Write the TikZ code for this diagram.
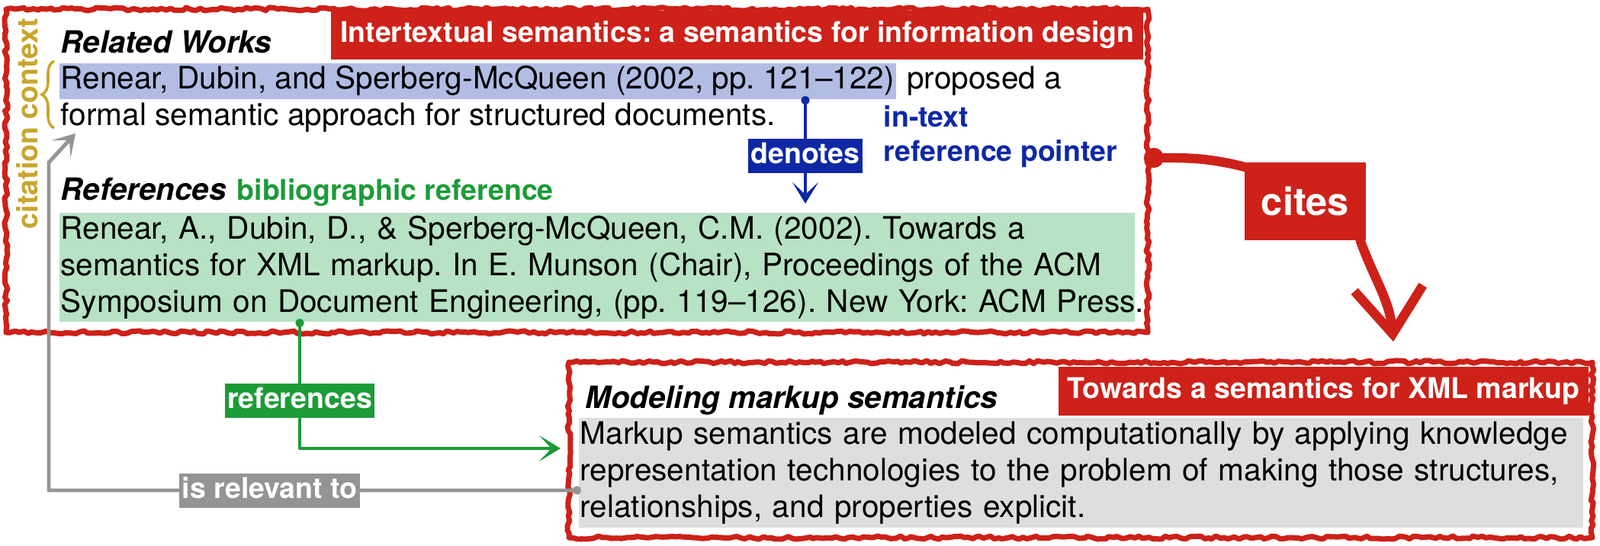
\documentclass[tikz,border=0pt]{standalone}
\usepackage{fontspec}
\setmainfont{TeX Gyre Heros}
\usetikzlibrary{arrows.meta, positioning, calc, decorations.pathreplacing, decorations.pathmorphing}
\frenchspacing

\definecolor{citered}{RGB}{205,33,25}
\definecolor{ptrblue}{RGB}{14,40,165}
\definecolor{hlblue}{RGB}{178,189,228}
\definecolor{refgreen}{RGB}{28,155,55}
\definecolor{hlgreen}{RGB}{183,226,196}
\definecolor{relgray}{RGB}{148,148,148}
\definecolor{hlgray}{RGB}{222,222,222}
\definecolor{ctxgold}{RGB}{200,165,45}

\begin{document}
\begin{tikzpicture}[>=Stealth,
		bodytext/.style={font=\fontsize{11.55}{13.66}\selectfont, inner sep=0pt},
		headtext/.style={font=\bfseries\itshape\fontsize{11.45}{13}\selectfont, inner sep=0pt},
		tagtext/.style={font=\bfseries\fontsize{10.67}{12}\selectfont, inner sep=0pt},
		hltext/.style={bodytext, inner xsep=0.02cm, inner ysep=0.04cm},
		lbl/.style={tagtext, text=white, text height=0.28cm, text depth=0.08cm, inner xsep=0.035cm, inner ysep=0.045cm},
		titlebar/.style={tagtext, text=white, fill=citered, text height=0.28cm, text depth=0.08cm, inner xsep=0.12cm, inner ysep=0.14cm},
		paperbox/.style={draw=citered, line width=2pt, line join=round, decorate, decoration={random steps, segment length=1.6pt, amplitude=0.6pt}},
		denline/.style={draw=ptrblue, line width=1.3pt, {Circle[length=1.1mm]}-{Stealth[length=2.8mm, width=3.4mm, inset=1.6mm]}},
		refline/.style={draw=refgreen, line width=1.4pt, line join=round, {Circle[length=1.1mm]}-{Stealth[length=2.8mm, width=3.4mm, inset=1.6mm]}},
		relline/.style={draw=relgray, line width=1.4pt, line join=round, {Circle[length=1.1mm]}-{Stealth[length=2.8mm, width=3.4mm, inset=1.6mm]}},
		citeline/.style={draw=citered, line width=3.5pt, line cap=round},
	]
	\useasboundingbox (0,0) rectangle (20.98,-7.16);
	
	% Citing paper
	\node[titlebar, anchor=north east] (citingtitle) at (15.00,-0.13) {Intertextual semantics: a semantics for information design};
	\node[headtext, anchor=base west] (relhead) at (0.79,-0.70) {Related Works};
	\node[hltext, fill=hlblue, anchor=base west] (intext) at (0.77,-1.17) {Renear, Dubin, and Sperberg-McQueen (2002, pp. 121–122)};
	\node[bodytext, anchor=base west] (proposed) at ([xshift=0.13cm]intext.base east) {proposed a};
	\node[bodytext, anchor=base west] (formal) at (0.79,-1.65) {formal semantic approach for structured documents.};
	\node[tagtext, text=ptrblue, anchor=base west] (ptrA) at (11.58,-1.67) {in-text};
	\node[tagtext, text=ptrblue, anchor=base west] (ptrB) at (11.58,-2.12) {reference pointer};
	\node[headtext, anchor=base west] (refhead) at (0.79,-2.63) {References};
	\node[tagtext, text=refgreen, anchor=base west] (biblbl) at (3.10,-2.63) {bibliographic reference};
	\node[hltext, fill=hlgreen, anchor=north west, text width=14.06cm, align=left] (refentry) at (0.77,-2.78)
		{\mbox{Renear, A., Dubin, D., \& Sperberg-McQueen, C.M. (2002). Towards a}\\
		\mbox{semantics for XML markup. In E. Munson (Chair), Proceedings of the ACM}\\
		\mbox{Symposium on Document Engineering, (pp. 119–126). New York: ACM Press.}};
	\node[paperbox, minimum width=14.97cm, minimum height=4.24cm] (citing) at (7.565,-2.24) {};
	
	% Citation context
	\node[tagtext, text=ctxgold, rotate=90] (ctx) at (0.355,-1.62) {citation context};
	\draw[ctxgold, line width=1pt, decorate, decoration={brace, amplitude=0.16cm}] (0.71,-1.68) -- (0.71,-0.80);
	
	% Cited paper
	\node[titlebar, anchor=north east] (citedtitle) at (20.84,-4.80) {Towards a semantics for XML markup};
	\node[headtext, anchor=base west] (modhead) at (7.67,-5.35) {Modeling markup semantics};
	\node[hltext, fill=hlgray, anchor=north west, text width=13.13cm, align=left, inner ysep=0.05cm] (abstract) at (7.58,-5.47)
		{\mbox{Markup semantics are modeled computationally by applying knowledge}\\
		\mbox{representation technologies to the problem of making those structures,}\\
		\mbox{relationships, and properties explicit.}};
	\node[paperbox, minimum width=13.42cm, minimum height=2.30cm] (cited) at (14.17,-5.90) {};
	
	% cites
	\node[tagtext, font=\bfseries\fontsize{14.4}{16}\selectfont, fill=citered, text=white, minimum width=1.59cm, minimum height=1.02cm] (cites) at (17.115,-2.64) {cites};
	\coordinate (citeA) at (15.00,-2.07);
	\coordinate (citeB) at (18.27,-4.48);
	\draw[citeline, {Circle[length=2.6mm]}-] (citeA) to[out=0, in=165] ([xshift=0.06cm, yshift=-0.08cm]cites.north west);
	\draw[citeline, -{Straight Barb[length=6mm, width=9mm]}] ([xshift=-0.08cm]cites.south east) to[out=-70, in=95] (citeB);
	
	% denotes
	\coordinate (denA) at (10.56,-1.26);
	\coordinate (denB) at (10.56,-2.67);
	\draw[denline] (denA) -- node[pos=0.56, lbl, fill=ptrblue] (denotes) {denotes} (denB);
	
	% references
	\coordinate (refA) at (3.93,-4.18);
	\coordinate (refB) at (7.35,-5.88);
	\draw[refline] (refA) -- node[pos=0.63, lbl, fill=refgreen] (refslbl) {references} (refA |- refB) -- (refB);
	
	% is relevant to
	\coordinate (relA) at (7.62,-6.43);
	\coordinate (relC) at (0.64,-6.43);
	\coordinate (relD) at (0.64,-2.13);
	\coordinate (relB) at (0.99,-1.75);
	\draw[relline] (relA) -- node[pos=0.585, lbl, fill=relgray] (relevant) {is relevant to} (relC) -- (relD) -- (relB);
\end{tikzpicture}
\end{document}
